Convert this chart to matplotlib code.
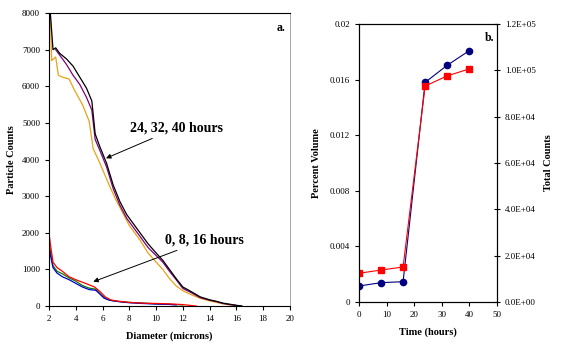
import matplotlib.pyplot as plt

plt.rcParams['font.family'] = ['Liberation Serif', 'DejaVu Serif']

# panel a: particle size distributions (24, 32, 40 h)
d_black = [2.1, 2.3, 2.5, 2.8, 3.3, 3.8, 4.3, 4.8, 5.2, 5.45, 5.8, 6.3, 6.8, 7.3, 7.8, 8.3,
           8.8, 9.4, 10.0, 10.5, 11.0, 11.5, 12.0, 12.5, 13.3, 14.0, 14.5, 15.0, 15.5, 16.0, 16.4]
y_black = [8000, 7000, 7050, 6900, 6750, 6550, 6250, 5950, 5600, 4700, 4350, 3900, 3300, 2850, 2500, 2250,
           2000, 1700, 1450, 1250, 1000, 750, 520, 420, 250, 170, 130, 80, 50, 20, 0]
d_purple = [2.5, 2.8, 3.3, 3.8, 4.3, 4.8, 5.2, 5.45, 5.8, 6.3, 6.8, 7.3, 7.8, 8.3, 8.8, 9.4,
            10.0, 10.5, 11.0, 11.5, 12.0, 12.5, 13.3, 14.0, 14.5, 15.0, 15.5, 16.0, 16.4]
y_purple = [7000, 6850, 6600, 6300, 6050, 5700, 5350, 4550, 4250, 3800, 3200, 2750, 2400, 2150, 1900, 1600,
            1380, 1200, 950, 720, 480, 390, 230, 160, 120, 70, 40, 15, 0]
d_orange = [2.1, 2.2, 2.5, 2.7, 3.0, 3.5, 3.9, 4.5, 5.0, 5.3, 5.8, 6.5, 7.0, 7.5, 8.0, 8.8,
            9.4, 10.0, 10.5, 11.0, 11.5, 12.0, 12.5, 13.3, 14.0, 14.5, 15.0, 15.5, 16.0, 16.3]
y_orange = [8000, 6700, 6800, 6300, 6250, 6200, 5900, 5500, 5050, 4300, 3900, 3300, 2900, 2550, 2200, 1800,
            1450, 1200, 1000, 750, 550, 420, 330, 210, 140, 100, 60, 30, 10, 0]

# panel a: 0, 8, 16 h
d_red = [2.0, 2.1, 2.3, 2.6, 3.0, 3.5, 4.0, 4.5, 5.0, 5.4, 5.8, 6.2, 6.6, 7.0, 8.0, 9.0, 10.0, 11.0, 12.0, 13.0]
y_red = [2000, 1700, 1200, 1050, 950, 800, 720, 650, 580, 520, 400, 250, 170, 140, 100, 80, 70, 60, 40, 0]
d_blue = [2.0, 2.1, 2.3, 2.6, 3.0, 3.5, 4.0, 4.5, 5.0, 5.5, 5.8, 6.1, 6.5, 7.0, 8.0, 9.0, 10.0, 11.0, 11.5]
y_blue = [1600, 1400, 1050, 900, 800, 720, 620, 520, 450, 430, 330, 220, 160, 130, 90, 70, 55, 45, 30]
d_green = [2.0, 2.1, 2.3, 2.6, 3.0, 3.5, 4.0, 4.5, 5.0, 5.5, 5.9, 6.3, 6.7, 7.5, 8.5, 9.5, 10.5, 11.5, 12.0]
y_green = [1800, 1500, 1100, 950, 880, 770, 680, 560, 490, 460, 300, 190, 150, 110, 90, 70, 50, 40, 30]

# panel b
hours = [0, 8, 16, 24, 32, 40]
pct_volume = [0.00115, 0.00139, 0.00146, 0.0158, 0.01703, 0.01808]
total_counts = [12400, 13800, 15100, 93200, 97600, 100600]

fig = plt.figure(figsize=(5.73, 3.53), dpi=100)

# ---- panel a ----
ax = fig.add_axes([0.0855, 0.133, 0.4205, 0.830])
ax.plot(d_orange, y_orange, color='#e8a317', lw=0.9)
ax.plot(d_purple, y_purple, color='#800080', lw=0.9)
ax.plot(d_black, y_black, color='black', lw=0.9)
ax.plot(d_green, y_green, color='#008000', lw=0.9)
ax.plot(d_blue, y_blue, color='#0000cc', lw=0.9)
ax.plot(d_red, y_red, color='red', lw=0.9)
ax.set_xlim(2, 20)
ax.set_ylim(0, 8000)
ax.set_xticks(range(2, 21, 2))
ax.set_yticks(range(0, 8001, 1000))
ax.tick_params(direction='out', length=3, width=0.8, labelsize=6.5)
ax.spines['right'].set_color('#999999')
ax.spines['right'].set_linewidth(0.6)
ax.set_xlabel('Diameter (microns)', fontsize=7.5, fontweight='bold', labelpad=6)
ax.set_ylabel('Particle Counts', fontsize=7.5, fontweight='bold', labelpad=4)
ax.text(0.98, 0.97, 'a.', transform=ax.transAxes, ha='right', va='top', fontsize=8.5, fontweight='bold')
ax.annotate('24, 32, 40 hours', xy=(6.26, 4035), xytext=(8.05, 4860), fontsize=10, fontweight='bold',
            va='center', arrowprops=dict(arrowstyle='-|>', color='black', lw=0.7, shrinkA=2, shrinkB=0,
                                         mutation_scale=7))
ax.annotate('0, 8, 16 hours', xy=(5.31, 665), xytext=(10.66, 1800), fontsize=10, fontweight='bold',
            va='center', arrowprops=dict(arrowstyle='-|>', color='black', lw=0.7, shrinkA=2, shrinkB=0,
                                         mutation_scale=7))

# ---- panel b ----
bx = fig.add_axes([0.6265, 0.1445, 0.2405, 0.7875])
bx.plot(hours, pct_volume, color='#000080', lw=0.8, marker='o', markersize=4.5)
bx.set_xlim(0, 50)
bx.set_ylim(0, 0.02)
bx.set_xticks(range(0, 51, 10))
bx.set_yticks([0, 0.004, 0.008, 0.012, 0.016, 0.02])
bx.set_yticklabels(['0', '0.004', '0.008', '0.012', '0.016', '0.02'])
bx.tick_params(direction='out', length=3, width=0.8, labelsize=6.5)
bx.set_xlabel('Time (hours)', fontsize=7.5, fontweight='bold', labelpad=6)
bx.set_ylabel('Percent Volume', fontsize=7.5, fontweight='bold', labelpad=6)
bx.text(0.985, 0.97, 'b.', transform=bx.transAxes, ha='right', va='top', fontsize=8.5, fontweight='bold')

cx = bx.twinx()
cx.plot(hours, total_counts, color='red', lw=0.8, marker='s', markersize=5)
cx.set_ylim(0, 120000)
cx.set_yticks(range(0, 120001, 20000))
cx.set_yticklabels(['0.0E+00', '2.0E+04', '4.0E+04', '6.0E+04', '8.0E+04', '1.0E+05', '1.2E+05'])
cx.tick_params(direction='inout', length=5, width=0.8, labelsize=6.5)
cx.set_ylabel('Total Counts', fontsize=7.5, fontweight='bold', labelpad=6)

fig.savefig('out.png', dpi=100)
